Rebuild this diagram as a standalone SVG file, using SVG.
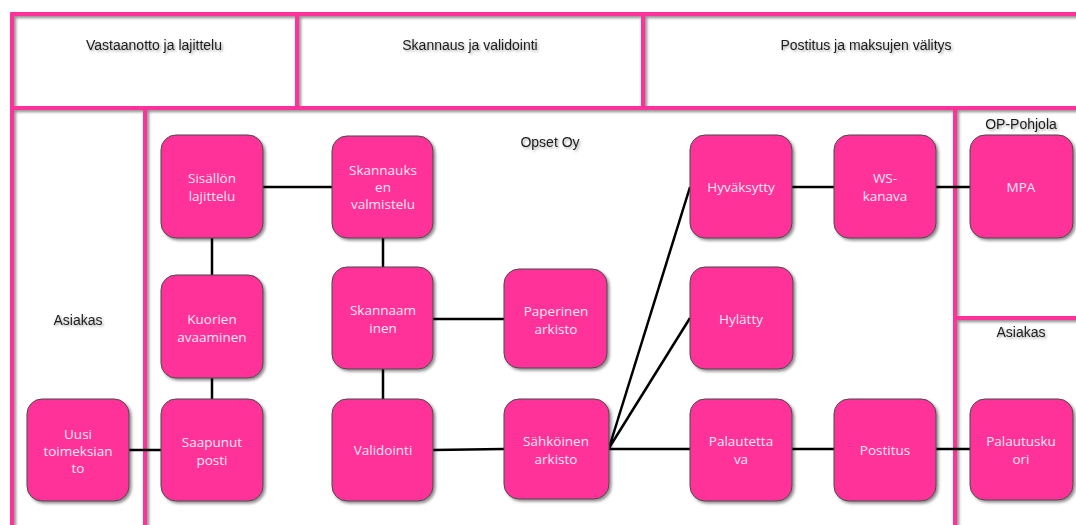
<svg xmlns="http://www.w3.org/2000/svg" width="1076" height="525" viewBox="0 0 1076 525">
  <defs>
    <filter id="shadow" x="-10%" y="-10%" width="130%" height="130%">
      <feDropShadow dx="2" dy="2" stdDeviation="1.5" flood-color="#000" flood-opacity="0.45"/>
    </filter>
    <filter id="textShadow" x="-10%" y="-30%" width="130%" height="180%">
      <feDropShadow dx="1.5" dy="1.5" stdDeviation="1" flood-color="#000" flood-opacity="0.35"/>
    </filter>
  </defs>
  <style>
    .lane { fill: none; stroke: #ff3399; stroke-width: 4; }
    .node rect { fill: #ff3399; stroke: #4a4a4a; stroke-width: 1; }
    .node text { fill: #ffe6f2; font-family: "Open Sans", "Liberation Sans", sans-serif; font-size: 13.5px; text-anchor: middle; }
    .title { fill: #1a1a1a; font-family: "Liberation Sans", Arial, sans-serif; font-size: 14px; text-anchor: middle; }
    .link { stroke: #000; stroke-width: 2.5; fill: none; }
  </style>

  <rect width="1076" height="525" fill="#fff"/>

  <!-- swimlane frame -->
  <g id="lanes" filter="url(#shadow)">
    <rect class="lane" x="12" y="14" width="285" height="94"/>
    <rect class="lane" x="297" y="14" width="346" height="94"/>
    <rect class="lane" x="643" y="14" width="450" height="94"/>
    <line class="lane" x1="12" y1="108" x2="12" y2="530"/>
    <line class="lane" x1="145" y1="108" x2="145" y2="530"/>
    <line class="lane" x1="955" y1="108" x2="955" y2="530"/>
    <line class="lane" x1="955" y1="318" x2="1090" y2="318"/>
  </g>

  <!-- lane titles -->
  <g id="titles" filter="url(#textShadow)">
    <text class="title" x="154" y="50">Vastaanotto ja lajittelu</text>
    <text class="title" x="470" y="50">Skannaus ja validointi</text>
    <text class="title" x="866" y="50">Postitus ja maksujen välitys</text>
    <text class="title" x="78" y="325">Asiakas</text>
    <text class="title" x="550" y="147">Opset Oy</text>
    <text class="title" x="1021" y="129">OP-Pohjola</text>
    <text class="title" x="1021" y="337">Asiakas</text>
  </g>

  <!-- connectors -->
  <g id="connectors">
    <line class="link" x1="129" y1="450" x2="161" y2="450"/>
    <line class="link" x1="212" y1="399" x2="212" y2="378"/>
    <line class="link" x1="212" y1="275" x2="212" y2="238"/>
    <line class="link" x1="263" y1="187" x2="332" y2="187"/>
    <line class="link" x1="383" y1="238" x2="383" y2="267"/>
    <line class="link" x1="433" y1="319" x2="504" y2="319"/>
    <line class="link" x1="383" y1="369" x2="383" y2="399"/>
    <line class="link" x1="433" y1="450" x2="504" y2="449"/>
    <line class="link" x1="609" y1="448" x2="690" y2="187"/>
    <line class="link" x1="609" y1="448" x2="690" y2="318"/>
    <line class="link" x1="609" y1="449" x2="690" y2="449"/>
    <line class="link" x1="792" y1="187" x2="834" y2="187"/>
    <line class="link" x1="936" y1="187" x2="970" y2="187"/>
    <line class="link" x1="792" y1="449" x2="834" y2="449"/>
    <line class="link" x1="936" y1="449" x2="970" y2="449"/>
  </g>

  <!-- process steps -->
  <g id="uusi-toimeksianto" class="node">
    <rect x="27" y="399" width="102" height="102" rx="15" filter="url(#shadow)"/>
    <text x="78" y="439">Uusi</text>
    <text x="78" y="456">toimeksian</text>
    <text x="78" y="473">to</text>
  </g>
  <g id="sisallon-lajittelu" class="node">
    <rect x="161" y="135" width="102" height="103" rx="15" filter="url(#shadow)"/>
    <text x="212" y="183">Sisällön</text>
    <text x="212" y="201">lajittelu</text>
  </g>
  <g id="kuorien-avaaminen" class="node">
    <rect x="161" y="275" width="102" height="103" rx="15" filter="url(#shadow)"/>
    <text x="212" y="324">Kuorien</text>
    <text x="212" y="342">avaaminen</text>
  </g>
  <g id="saapunut-posti" class="node">
    <rect x="161" y="399" width="102" height="102" rx="15" filter="url(#shadow)"/>
    <text x="212" y="447">Saapunut</text>
    <text x="212" y="465">posti</text>
  </g>
  <g id="skannauksen-valmistelu" class="node">
    <rect x="332" y="136" width="101" height="102" rx="15" filter="url(#shadow)"/>
    <text x="383" y="175">Skannauks</text>
    <text x="383" y="192">en</text>
    <text x="383" y="209">valmistelu</text>
  </g>
  <g id="skannaaminen" class="node">
    <rect x="332" y="267" width="101" height="102" rx="15" filter="url(#shadow)"/>
    <text x="383" y="315">Skannaam</text>
    <text x="383" y="333">inen</text>
  </g>
  <g id="paperinen-arkisto" class="node">
    <rect x="504" y="269" width="103" height="99" rx="15" filter="url(#shadow)"/>
    <text x="556" y="316">Paperinen</text>
    <text x="556" y="334">arkisto</text>
  </g>
  <g id="validointi" class="node">
    <rect x="332" y="399" width="101" height="102" rx="15" filter="url(#shadow)"/>
    <text x="383" y="455">Validointi</text>
  </g>
  <g id="sahkoinen-arkisto" class="node">
    <rect x="504" y="399" width="105" height="100" rx="15" filter="url(#shadow)"/>
    <text x="556" y="446">Sähköinen</text>
    <text x="556" y="464">arkisto</text>
  </g>
  <g id="hyvaksytty" class="node">
    <rect x="690" y="135" width="102" height="103" rx="15" filter="url(#shadow)"/>
    <text x="741" y="192">Hyväksytty</text>
  </g>
  <g id="ws-kanava" class="node">
    <rect x="834" y="135" width="102" height="103" rx="15" filter="url(#shadow)"/>
    <text x="885" y="183">WS-</text>
    <text x="885" y="201">kanava</text>
  </g>
  <g id="mpa" class="node">
    <rect x="970" y="135" width="103" height="103" rx="15" filter="url(#shadow)"/>
    <text x="1021" y="192">MPA</text>
  </g>
  <g id="hylatty" class="node">
    <rect x="690" y="267" width="103" height="102" rx="15" filter="url(#shadow)"/>
    <text x="741" y="324">Hylätty</text>
  </g>
  <g id="palautettava" class="node">
    <rect x="690" y="399" width="102" height="102" rx="15" filter="url(#shadow)"/>
    <text x="741" y="446">Palautetta</text>
    <text x="741" y="464">va</text>
  </g>
  <g id="postitus" class="node">
    <rect x="834" y="399" width="102" height="102" rx="15" filter="url(#shadow)"/>
    <text x="885" y="455">Postitus</text>
  </g>
  <g id="palautuskuori" class="node">
    <rect x="970" y="399" width="103" height="101" rx="15" filter="url(#shadow)"/>
    <text x="1021" y="446">Palautusku</text>
    <text x="1021" y="464">ori</text>
  </g>
</svg>
